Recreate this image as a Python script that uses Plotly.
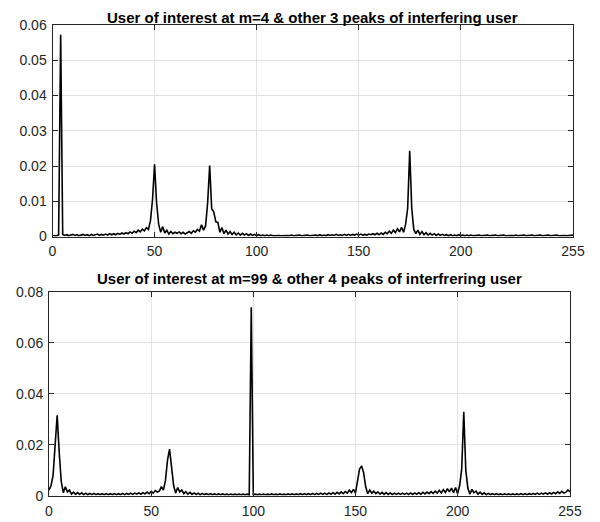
import plotly.graph_objects as go

# sample index m = 0..255
m = list(range(256))

top_values = [
    0.0002, 0.0001, 0.0002, 0.0004, 0.0572, 0.0006, 0.0003, 0.0005, 0.0002, 0.0004, 0.0006, 0.0003, 0.0005, 0.0002, 0.0004, 0.0006,
    0.0003, 0.0005, 0.0002, 0.0006, 0.0003, 0.0005, 0.0007, 0.0003, 0.0006, 0.0004, 0.0007, 0.0004, 0.0008, 0.0005, 0.0008, 0.0005,
    0.0009, 0.0006, 0.0010, 0.0007, 0.0011, 0.0008, 0.0013, 0.0009, 0.0015, 0.0011, 0.0018, 0.0013, 0.0021, 0.0016, 0.0025, 0.0020,
    0.0045, 0.0105, 0.0205, 0.0095, 0.0035, 0.0012, 0.0028, 0.0010, 0.0018, 0.0007, 0.0014, 0.0008, 0.0012, 0.0009, 0.0013, 0.0008,
    0.0012, 0.0007, 0.0010, 0.0014, 0.0009, 0.0016, 0.0012, 0.0020, 0.0015, 0.0033, 0.0018, 0.0030, 0.0095, 0.0201, 0.0078, 0.0070,
    0.0042, 0.0040, 0.0012, 0.0025, 0.0008, 0.0018, 0.0007, 0.0014, 0.0006, 0.0012, 0.0005, 0.0010, 0.0004, 0.0009, 0.0004, 0.0008,
    0.0003, 0.0007, 0.0003, 0.0006, 0.0002, 0.0005, 0.0002, 0.0004, 0.0002, 0.0004, 0.0002, 0.0004, 0.0002, 0.0003, 0.0002, 0.0003,
    0.0002, 0.0003, 0.0002, 0.0003, 0.0002, 0.0004, 0.0002, 0.0003, 0.0002, 0.0004, 0.0002, 0.0003, 0.0002, 0.0004, 0.0002, 0.0003,
    0.0002, 0.0004, 0.0002, 0.0005, 0.0002, 0.0004, 0.0002, 0.0005, 0.0003, 0.0005, 0.0003, 0.0006, 0.0003, 0.0005, 0.0003, 0.0006,
    0.0003, 0.0006, 0.0003, 0.0006, 0.0004, 0.0007, 0.0004, 0.0007, 0.0004, 0.0006, 0.0004, 0.0007, 0.0005, 0.0008, 0.0005, 0.0009,
    0.0005, 0.0010, 0.0006, 0.0012, 0.0008, 0.0015, 0.0009, 0.0018, 0.0011, 0.0022, 0.0013, 0.0026, 0.0012, 0.0035, 0.0080, 0.0243,
    0.0080, 0.0020, 0.0008, 0.0018, 0.0006, 0.0014, 0.0005, 0.0011, 0.0004, 0.0009, 0.0004, 0.0008, 0.0003, 0.0007, 0.0003, 0.0006,
    0.0003, 0.0005, 0.0002, 0.0005, 0.0002, 0.0004, 0.0002, 0.0005, 0.0002, 0.0004, 0.0002, 0.0004, 0.0002, 0.0004, 0.0002, 0.0003,
    0.0002, 0.0004, 0.0002, 0.0003, 0.0002, 0.0004, 0.0002, 0.0003, 0.0002, 0.0004, 0.0002, 0.0003, 0.0002, 0.0004, 0.0002, 0.0003,
    0.0002, 0.0003, 0.0002, 0.0004, 0.0002, 0.0003, 0.0002, 0.0004, 0.0002, 0.0003, 0.0002, 0.0004, 0.0002, 0.0003, 0.0002, 0.0004,
    0.0002, 0.0003, 0.0002, 0.0004, 0.0002, 0.0003, 0.0002, 0.0004, 0.0002, 0.0003, 0.0002, 0.0003, 0.0002, 0.0003, 0.0003, 0.0004,
]

bottom_values = [
    0.0022, 0.0040, 0.0080, 0.0185, 0.0316, 0.0170, 0.0055, 0.0012, 0.0035, 0.0015, 0.0022, 0.0006, 0.0014, 0.0005, 0.0012, 0.0005,
    0.0011, 0.0004, 0.0010, 0.0004, 0.0009, 0.0004, 0.0009, 0.0004, 0.0008, 0.0004, 0.0008, 0.0004, 0.0008, 0.0004, 0.0008, 0.0004,
    0.0008, 0.0004, 0.0008, 0.0004, 0.0009, 0.0004, 0.0009, 0.0005, 0.0010, 0.0005, 0.0010, 0.0006, 0.0011, 0.0006, 0.0012, 0.0007,
    0.0014, 0.0008, 0.0017, 0.0010, 0.0020, 0.0014, 0.0018, 0.0036, 0.0022, 0.0060, 0.0140, 0.0183, 0.0120, 0.0040, 0.0010, 0.0032,
    0.0015, 0.0022, 0.0008, 0.0016, 0.0006, 0.0013, 0.0005, 0.0011, 0.0005, 0.0010, 0.0004, 0.0009, 0.0004, 0.0008, 0.0004, 0.0008,
    0.0004, 0.0007, 0.0004, 0.0007, 0.0004, 0.0007, 0.0004, 0.0006, 0.0004, 0.0006, 0.0004, 0.0006, 0.0004, 0.0006, 0.0004, 0.0006,
    0.0004, 0.0006, 0.0003, 0.0740, 0.0004, 0.0006, 0.0004, 0.0006, 0.0004, 0.0006, 0.0004, 0.0006, 0.0004, 0.0007, 0.0004, 0.0006,
    0.0004, 0.0007, 0.0004, 0.0006, 0.0004, 0.0007, 0.0004, 0.0007, 0.0004, 0.0007, 0.0004, 0.0008, 0.0004, 0.0008, 0.0004, 0.0008,
    0.0004, 0.0009, 0.0004, 0.0009, 0.0005, 0.0010, 0.0005, 0.0010, 0.0005, 0.0011, 0.0006, 0.0012, 0.0006, 0.0013, 0.0007, 0.0015,
    0.0008, 0.0016, 0.0010, 0.0022, 0.0012, 0.0025, 0.0010, 0.0060, 0.0105, 0.0117, 0.0090, 0.0035, 0.0008, 0.0022, 0.0010, 0.0018,
    0.0008, 0.0015, 0.0006, 0.0013, 0.0005, 0.0012, 0.0005, 0.0011, 0.0005, 0.0010, 0.0005, 0.0010, 0.0005, 0.0010, 0.0005, 0.0010,
    0.0005, 0.0011, 0.0005, 0.0011, 0.0006, 0.0012, 0.0006, 0.0013, 0.0007, 0.0014, 0.0008, 0.0016, 0.0009, 0.0018, 0.0010, 0.0021,
    0.0011, 0.0024, 0.0013, 0.0028, 0.0015, 0.0030, 0.0012, 0.0032, 0.0008, 0.0040, 0.0105, 0.0330, 0.0100, 0.0030, 0.0006, 0.0025,
    0.0012, 0.0018, 0.0006, 0.0014, 0.0005, 0.0011, 0.0004, 0.0009, 0.0004, 0.0008, 0.0004, 0.0008, 0.0004, 0.0007, 0.0004, 0.0007,
    0.0004, 0.0007, 0.0004, 0.0007, 0.0004, 0.0007, 0.0004, 0.0008, 0.0004, 0.0008, 0.0004, 0.0008, 0.0005, 0.0009, 0.0005, 0.0010,
    0.0005, 0.0010, 0.0006, 0.0011, 0.0006, 0.0012, 0.0007, 0.0013, 0.0008, 0.0015, 0.0009, 0.0017, 0.0010, 0.0014, 0.0022, 0.0015,
]

x_ticks = [0, 50, 100, 150, 200, 255]
top_y_ticks = [0, 0.01, 0.02, 0.03, 0.04, 0.05, 0.06]
bottom_y_ticks = [0, 0.02, 0.04, 0.06, 0.08]
top_title = "User of interest at m=4 & other 3 peaks of interfering user"
bottom_title = "User of interest at m=99 & other 4 peaks of interfrering user"

# the page body adds an 8px margin, so the figure is drawn 8px smaller
OFF = 8
W, H = 600 - OFF, 522 - OFF
AX = "#262626"
GRID = "#e3e3e3"
FONT = "Liberation Sans, Arial, sans-serif"

def px_x(p):
    return (p - OFF) / W

def px_y(p):
    return 1 - (p - OFF) / H

fig = go.Figure()
fig.add_trace(go.Scatter(x=m, y=top_values, mode="lines",
                         line=dict(color="black", width=1.6), xaxis="x", yaxis="y",
                         showlegend=False, hoverinfo="x+y"))
fig.add_trace(go.Scatter(x=m, y=bottom_values, mode="lines",
                         line=dict(color="black", width=1.6), xaxis="x2", yaxis="y2",
                         showlegend=False, hoverinfo="x+y"))

def xaxis(domain, anchor):
    return dict(domain=domain, anchor=anchor, range=[0, 255], tickvals=x_ticks,
                ticktext=[str(v) for v in x_ticks], ticks="inside", ticklen=5,
                tickcolor=AX, showline=True, linecolor=AX, linewidth=1, mirror="allticks",
                showgrid=True, gridcolor=GRID, gridwidth=1, zeroline=False,
                automargin=False, ticklabelstandoff=2,
                tickfont=dict(family=FONT, size=14, color=AX))

def yaxis(domain, anchor, rng, ticks, texts):
    return dict(domain=domain, anchor=anchor, range=rng, tickvals=ticks, ticktext=texts,
                ticks="inside", ticklen=5, tickcolor=AX, showline=True, linecolor=AX,
                linewidth=1, mirror="allticks", showgrid=True, gridcolor=GRID, gridwidth=1,
                zeroline=False, automargin=False, ticklabelstandoff=2,
                tickfont=dict(family=FONT, size=14, color=AX))

top_x_dom = [px_x(52.5), px_x(573)]
bot_x_dom = [px_x(49), px_x(570)]
top_y_dom = [px_y(236.5), px_y(25)]
bot_y_dom = [px_y(495.7), px_y(292)]

fig.update_layout(
    width=W, height=H,
    margin=dict(l=0, r=0, t=0, b=0),
    paper_bgcolor="white", plot_bgcolor="white",
    xaxis=xaxis(top_x_dom, "y"),
    yaxis=yaxis(top_y_dom, "x", [0, 0.06], top_y_ticks,
                ["0", "0.01", "0.02", "0.03", "0.04", "0.05", "0.06"]),
    xaxis2=xaxis(bot_x_dom, "y2"),
    yaxis2=yaxis(bot_y_dom, "x2", [0, 0.08], bottom_y_ticks,
                 ["0", "0.02", "0.04", "0.06", "0.08"]),
    annotations=[
        dict(text="<b>" + top_title + "</b>", xref="paper", yref="paper",
             x=(top_x_dom[0] + top_x_dom[1]) / 2, y=1.0, xanchor="center",
             yanchor="top", borderpad=0, showarrow=False,
             font=dict(family=FONT, size=15, color="black")),
        dict(text="<b>" + bottom_title + "</b>", xref="paper", yref="paper",
             x=(bot_x_dom[0] + bot_x_dom[1]) / 2, y=px_y(278), xanchor="center",
             yanchor="middle", borderpad=0, showarrow=False,
             font=dict(family=FONT, size=15, color="black")),
    ],
)

fig.write_html("out.html")
